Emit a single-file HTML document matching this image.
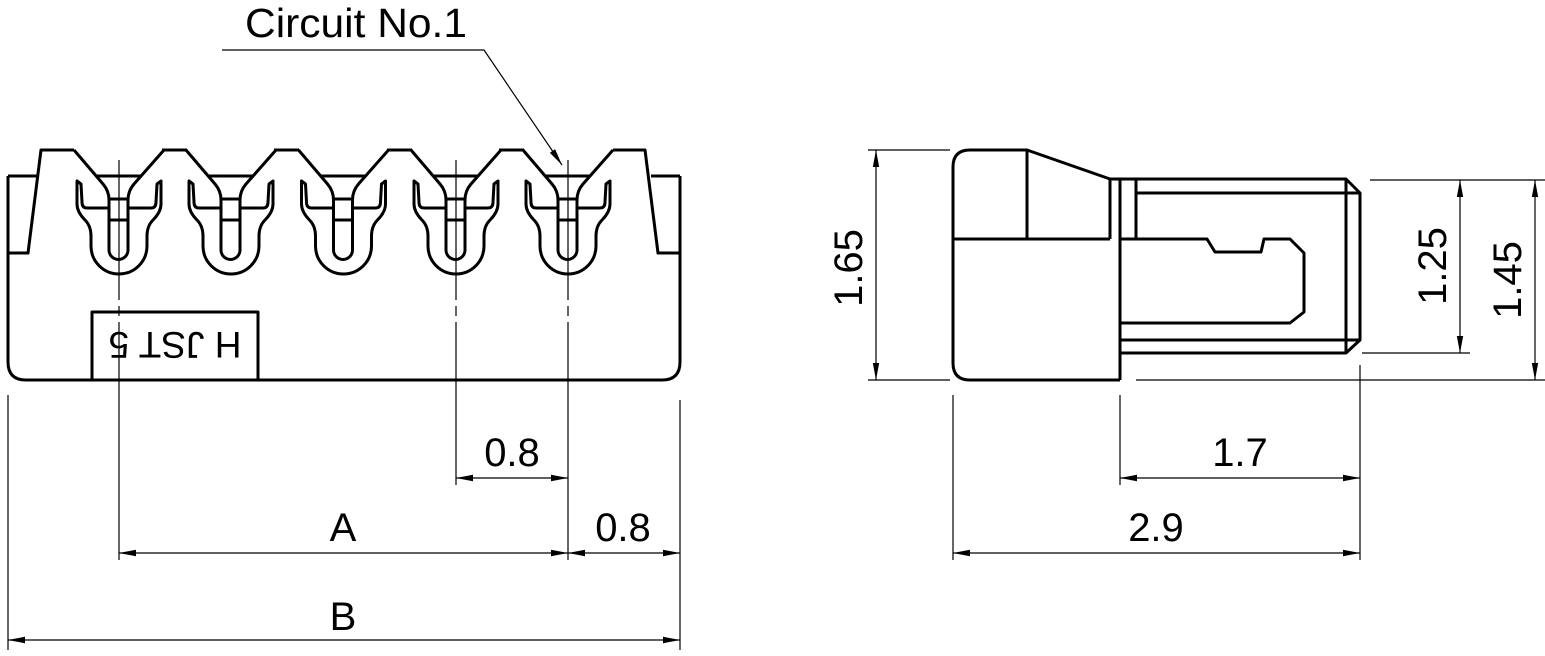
<!DOCTYPE html>
<html><head><meta charset="utf-8"><style>
html,body{margin:0;padding:0;background:#fff;}
svg{display:block;}
text{font-family:"Liberation Sans",sans-serif;fill:#000;}
</style></head><body>
<svg width="1545" height="656" viewBox="0 0 1545 656" xmlns="http://www.w3.org/2000/svg">
<defs>
<g id="ct" fill="none" stroke="#000" stroke-width="3" stroke-linejoin="round">
  <path d="M-45,150 L-16,184 Q-10,191 -10,200 L-10,250 A9.5,9.5 0 0 0 9,250 L9,200 Q9,191 15,184 L45,150"/>
  <line x1="-10" y1="199" x2="9" y2="199"/>
  <line x1="-10" y1="220" x2="9" y2="220"/>
  <line x1="-22" y1="176" x2="22" y2="176"/>
  <path d="M-10,208 L-32,208 Q-37,208 -37,202 L-38,184 L-42,181 L-42,204 Q-42,212 -34,220 Q-28,226 -28,236 L-28,246 A28,28 0 0 0 28,246 L28,236 Q28,226 34,220 Q42,212 42,204 L42,181 L38,184 L37,202 Q37,208 32,208 L9,208"/>
</g>
<marker id="ar" viewBox="0 0 17 8" refX="17" refY="4" markerWidth="17" markerHeight="8" markerUnits="userSpaceOnUse" orient="auto-start-reverse"><path d="M0,0.8 L17,4 L0,7.2 Z" fill="#000"/></marker>
</defs>

<g fill="none" stroke="#000" stroke-width="3" stroke-linejoin="round">
  <path d="M8,176 L8,362 Q8,380 26,380 L662,380 Q680,380 680,362 L680,176"/>
  <path d="M8,176 L37,176 M8,253 L28,253 L41,150 L74,150"/>
  <path d="M680,176 L651,176 M680,253 L658,253 L645,150 L613,150"/>
  <path d="M162,150 L187,150 M274,150 L299,150 M387,150 L412,150 M499,150 L524,150"/>
  <rect x="92" y="312" width="166" height="68"/>
</g>
<use href="#ct" x="119"/>
<use href="#ct" x="231"/>
<use href="#ct" x="343.5"/>
<use href="#ct" x="456"/>
<use href="#ct" x="568"/>
<text x="175" y="358" font-size="37" text-anchor="middle" transform="rotate(180 175 345)">H JST 5</text>

<g stroke="#000" stroke-width="1.2" fill="none">
  <path d="M119,160 V300 M119,306 V316 M119,322 V560" />
  <path d="M456,160 V300 M456,306 V316 M456,322 V485"/>
  <path d="M568,160 V300 M568,306 V316 M568,322 V560"/>
  <path d="M8,395 V650 M680,400 V650"/>
  <line x1="456" y1="478" x2="568" y2="478" marker-start="url(#ar)" marker-end="url(#ar)"/>
  <line x1="119" y1="553" x2="568" y2="553" marker-start="url(#ar)" marker-end="url(#ar)"/>
  <line x1="568" y1="553" x2="680" y2="553" marker-start="url(#ar)" marker-end="url(#ar)"/>
  <line x1="8" y1="640" x2="680" y2="640" marker-start="url(#ar)" marker-end="url(#ar)"/>
  <path d="M222,50 H484 L562,165" marker-end="url(#ar)"/>
</g>
<text x="356" y="37" font-size="41" text-anchor="middle" textLength="222" lengthAdjust="spacingAndGlyphs">Circuit No.1</text>
<text x="512" y="466" font-size="40" text-anchor="middle">0.8</text>
<text x="343" y="541" font-size="40" text-anchor="middle">A</text>
<text x="623" y="541" font-size="40" text-anchor="middle">0.8</text>
<text x="343" y="630" font-size="40" text-anchor="middle">B</text>

<g fill="none" stroke="#000" stroke-width="3" stroke-linejoin="round">
  <path d="M1120,380 L970,380 Q953,380 953,363 L953,167 Q953,150 970,150 L1027,150 L1110,179 L1110,239"/>
  <path d="M1027,150 V239 M953,239 H1110"/>
  <path d="M1120,179 V380 M1136,179 V239"/>
  <path d="M1110,179 H1346 L1360,193 V340 L1346,353 H1120"/>
  <path d="M1136,193 H1360 M1346,179 V353 M1120,340 H1360"/>
  <path d="M1120,239 H1207 L1215,252 H1261 L1264,239 H1290 L1304,253 V312 L1290,323 H1120"/>
</g>
<g stroke="#000" stroke-width="1.2" fill="none">
  <path d="M868,150 H950 M868,380 H950 M1136,380 H1545 M1370,180 H1545 M1362,353 H1470"/>
  <path d="M953,395 V560 M1120,395 V485 M1360,365 V560"/>
  <line x1="876" y1="150" x2="876" y2="380" marker-start="url(#ar)" marker-end="url(#ar)"/>
  <line x1="1460" y1="180" x2="1460" y2="353" marker-start="url(#ar)" marker-end="url(#ar)"/>
  <line x1="1535" y1="180" x2="1535" y2="380" marker-start="url(#ar)" marker-end="url(#ar)"/>
  <line x1="1120" y1="478" x2="1360" y2="478" marker-start="url(#ar)" marker-end="url(#ar)"/>
  <line x1="953" y1="553" x2="1360" y2="553" marker-start="url(#ar)" marker-end="url(#ar)"/>
</g>
<text x="1240" y="466" font-size="40" text-anchor="middle">1.7</text>
<text x="1156" y="541" font-size="40" text-anchor="middle">2.9</text>
<text x="0" y="0" font-size="40" text-anchor="middle" transform="translate(862 268) rotate(-90)">1.65</text>
<text x="0" y="0" font-size="40" text-anchor="middle" transform="translate(1446 266) rotate(-90)">1.25</text>
<text x="0" y="0" font-size="40" text-anchor="middle" transform="translate(1521 280) rotate(-90)">1.45</text>
</svg>
</body></html>
